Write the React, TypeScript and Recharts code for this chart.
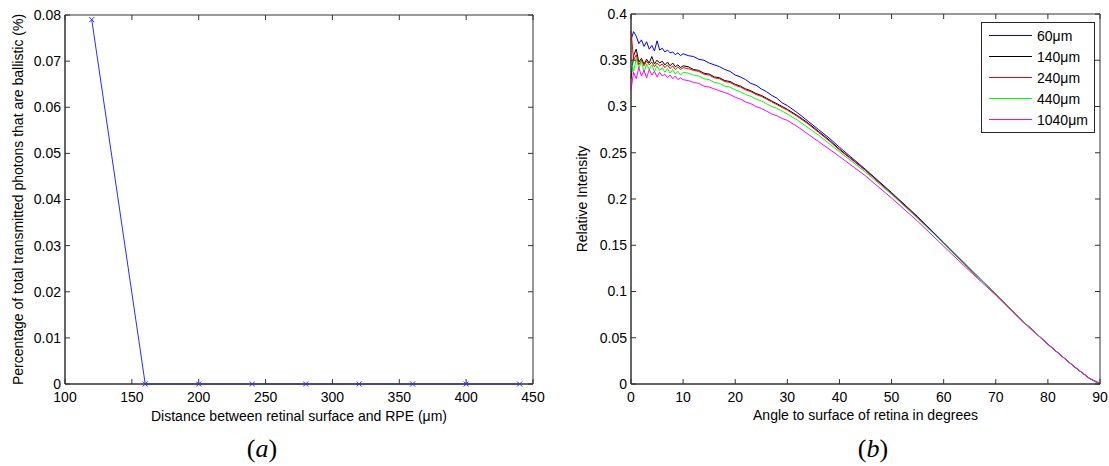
import React from 'react';
import { LineChart, Line, XAxis, YAxis, Legend, ReferenceArea } from 'recharts';

// ---------- Panel (a) ----------
const distances = [120, 160, 200, 240, 280, 320, 360, 400, 440];
const ballisticPct = [0.079, 0, 0, 0, 0, 0, 0, 0, 0];
const distanceTicks = [100, 150, 200, 250, 300, 350, 400, 450];
const pctTicks = [0, 0.01, 0.02, 0.03, 0.04, 0.05, 0.06, 0.07, 0.08];

// ---------- Panel (b) ----------
const angles = [
  0, 0.5, 1, 1.5, 2, 2.5, 3, 3.5, 4, 4.5, 5, 5.5, 6, 6.5, 7, 7.5, 8, 8.5, 9, 9.5, 10,
  11, 12, 13, 14, 15, 16, 17, 18, 19, 20, 21, 22, 23, 24, 25, 26, 27, 28, 29, 30,
  32, 34, 36, 38, 40,
  45, 50, 55, 60, 65, 70, 75, 80, 85, 88, 90,
];
const intensity60 = [
  0.372, 0.381, 0.376, 0.368, 0.372, 0.365, 0.370, 0.362, 0.366, 0.360, 0.371, 0.361, 0.363, 0.359, 0.361, 0.358, 0.359, 0.356, 0.358, 0.355, 0.357,
  0.355, 0.354, 0.351, 0.350, 0.347, 0.345, 0.343, 0.340, 0.338, 0.334, 0.332, 0.329, 0.325, 0.323, 0.319, 0.316, 0.312, 0.309, 0.304, 0.301,
  0.293, 0.284, 0.275, 0.266, 0.256,
  0.232, 0.207, 0.181, 0.153, 0.125, 0.097, 0.069, 0.043, 0.019, 0.006, 0,
];
const intensity140 = [
  0.330, 0.355, 0.362, 0.348, 0.352, 0.346, 0.351, 0.347, 0.354, 0.346, 0.350, 0.347, 0.349, 0.345, 0.348, 0.344, 0.347, 0.343, 0.345, 0.342, 0.344,
  0.343, 0.340, 0.339, 0.336, 0.335, 0.332, 0.331, 0.328, 0.327, 0.324, 0.322, 0.319, 0.317, 0.314, 0.312, 0.309, 0.306, 0.303, 0.300, 0.297,
  0.290, 0.282, 0.273, 0.264, 0.254,
  0.231, 0.206, 0.180, 0.152, 0.124, 0.097, 0.069, 0.043, 0.019, 0.006, 0,
];
const intensity240 = [
  0.382, 0.350, 0.356, 0.345, 0.350, 0.344, 0.349, 0.345, 0.348, 0.343, 0.347, 0.344, 0.346, 0.342, 0.345, 0.341, 0.344, 0.340, 0.343, 0.340, 0.342,
  0.341, 0.339, 0.338, 0.335, 0.334, 0.331, 0.330, 0.327, 0.326, 0.323, 0.321, 0.318, 0.316, 0.313, 0.311, 0.308, 0.305, 0.302, 0.299, 0.296,
  0.289, 0.281, 0.272, 0.263, 0.253,
  0.231, 0.206, 0.180, 0.152, 0.124, 0.097, 0.069, 0.043, 0.019, 0.006, 0,
];
const intensity440 = [
  0.350, 0.338, 0.352, 0.341, 0.349, 0.337, 0.346, 0.340, 0.345, 0.338, 0.344, 0.339, 0.342, 0.337, 0.341, 0.336, 0.340, 0.335, 0.338, 0.334, 0.337,
  0.336, 0.334, 0.333, 0.330, 0.329, 0.326, 0.325, 0.322, 0.321, 0.318, 0.316, 0.313, 0.311, 0.308, 0.306, 0.303, 0.300, 0.298, 0.295, 0.292,
  0.285, 0.277, 0.269, 0.260, 0.251,
  0.229, 0.205, 0.179, 0.152, 0.124, 0.097, 0.069, 0.043, 0.019, 0.006, 0,
];
const intensity1040 = [
  0.318, 0.337, 0.330, 0.342, 0.333, 0.339, 0.331, 0.340, 0.334, 0.338, 0.332, 0.337, 0.333, 0.335, 0.331, 0.334, 0.330, 0.333, 0.329, 0.331, 0.329,
  0.328, 0.326, 0.325, 0.322, 0.321, 0.319, 0.317, 0.315, 0.313, 0.310, 0.308, 0.305, 0.303, 0.300, 0.298, 0.295, 0.292, 0.290, 0.287, 0.285,
  0.278, 0.270, 0.262, 0.254, 0.246,
  0.225, 0.201, 0.176, 0.149, 0.122, 0.096, 0.068, 0.043, 0.019, 0.006, 0.001,
];
const seriesNames = ['60μm', '140μm', '240μm', '440μm', '1040μm'];
const seriesColors = ['#0000ff', '#000000', '#ff0000', '#00ff00', '#ff00ff'];
const seriesValues = [intensity60, intensity140, intensity240, intensity440, intensity1040];
const angleTicks = [0, 10, 20, 30, 40, 50, 60, 70, 80, 90];
const intensityTicks = [0, 0.05, 0.1, 0.15, 0.2, 0.25, 0.3, 0.35, 0.4];

const leftRows = distances.map((d, i) => ({ d, v: ballisticPct[i] }));
const rightRows = angles.map((a, i) => {
  const row: any = { a };
  seriesValues.forEach((arr, k) => {
    row['s' + k] = arr[i];
  });
  return row;
});

const FONT = '"Liberation Sans", Arial, sans-serif';
const AXIS = '#333333';
const tickStyle = { fontSize: 14, fill: '#000', fontFamily: FONT };
const fmt = (v: number) => String(parseFloat(Number(v).toFixed(2)));
const blank = () => '';

const CrossDot = (props: any) => {
  const { cx, cy, index } = props;
  if (cx == null || cy == null) return <g key={'e' + index} />;
  const s = 2.5;
  return (
    <path
      key={'x' + index}
      d={`M${cx - s},${cy - s}L${cx + s},${cy + s}M${cx - s},${cy + s}L${cx + s},${cy - s}`}
      stroke="#2b2bff"
      strokeWidth={1}
      fill="none"
    />
  );
};

const renderLegend = (props: any) => {
  const payload = [...(props.payload || [])]
    .filter((p: any) => seriesNames.indexOf(p.value) >= 0)
    .sort((p: any, q: any) => seriesNames.indexOf(p.value) - seriesNames.indexOf(q.value));
  return (
    <div
      style={{
        position: 'relative',
        width: 112,
        height: 109,
        border: '1px solid #262626',
        background: '#fff',
        fontFamily: FONT,
        fontSize: 14,
        color: '#000',
      }}
    >
      {payload.map((entry: any, i: number) => (
        <div
          key={entry.value}
          style={{
            position: 'absolute',
            left: 0,
            top: 2 + i * 21,
            height: 21,
            display: 'flex',
            alignItems: 'center',
            whiteSpace: 'nowrap',
          }}
        >
          <svg width={50} height={3} style={{ display: 'block' }}>
            <line x1={7} y1={1.5} x2={50} y2={1.5} stroke={seriesColors[seriesNames.indexOf(entry.value)]} strokeWidth={1} />
          </svg>
          <span style={{ marginLeft: 5 }}>{entry.value}</span>
        </div>
      ))}
    </div>
  );
};

const PanelTag = ({ letter, cx }: { letter: string; cx: number }) => (
  <div
    style={{
      position: 'absolute',
      left: cx - 40,
      top: 436,
      width: 80,
      textAlign: 'center',
      fontFamily: '"Liberation Serif", "DejaVu Serif", serif',
      fontSize: 26,
      lineHeight: '26px',
      color: '#000',
    }}
  >
    (<i>{letter}</i>)
  </div>
);

type FrameProps = { xKey: string; yKey: string; xDomain: number[]; xTicks: number[]; yDomain: number[]; yTicks: number[] };

// MATLAB-style box: top/right axes carrying inward ticks, and an outline of the plot area.
const frameAxes = ({ xKey, yKey, xDomain, xTicks, yDomain, yTicks }: FrameProps) => [
  <XAxis key="xtop" xAxisId="xtop" dataKey={xKey} type="number" domain={xDomain} allowDataOverflow ticks={xTicks} orientation="top" tickFormatter={blank} tickSize={-5} axisLine={false} tickLine={{ stroke: AXIS }} height={1} />,
  <YAxis key="yr" yAxisId="yr" type="number" domain={yDomain} allowDataOverflow ticks={yTicks} orientation="right" tickFormatter={blank} tickSize={-5} axisLine={false} tickLine={{ stroke: AXIS }} width={1} />,
  <Line key="h2" xAxisId="xtop" yAxisId="yr" dataKey={yKey} stroke="none" dot={false} activeDot={false} legendType="none" isAnimationActive={false} />,
  <ReferenceArea key="box" xAxisId="x" yAxisId="y" x1={xDomain[0]} x2={xDomain[1]} y1={yDomain[0]} y2={yDomain[1]} stroke={AXIS} strokeOpacity={1} fill="none" fillOpacity={0} />,
];

export default function App() {
  return (
    <div style={{ position: 'absolute', left: 0, top: 0, width: 1109, height: 466, background: '#fff', overflow: 'hidden' }}>
      <div style={{ position: 'absolute', left: 0, top: 0 }}>
        <LineChart width={560} height={466} data={leftRows} margin={{ top: 14, right: 26, bottom: 37, left: 0 }}>
          <XAxis
            xAxisId="x"
            dataKey="d"
            type="number"
            domain={[100, 450]}
            ticks={distanceTicks}
            tickLine={{ stroke: AXIS }}
            tickSize={-5}
            tickMargin={13}
            axisLine={{ stroke: AXIS }}
            tick={tickStyle}
            height={45}
            label={{
              value: 'Distance between retinal surface and RPE (μm)',
              position: 'insideTop',
              offset: 27,
              style: { fontSize: 14, fill: '#000', fontFamily: FONT },
            }}
          />
          <YAxis
            yAxisId="y"
            type="number"
            domain={[0, 0.08]}
            ticks={pctTicks}
            tickFormatter={fmt}
            tickLine={{ stroke: AXIS }}
            tickSize={-5}
            tickMargin={9}
            axisLine={{ stroke: AXIS }}
            tick={tickStyle}
            width={65}
            label={{
              value: 'Percentage of total transmitted photons that are ballistic (%)',
              angle: -90,
              position: 'insideLeft',
              offset: 18,
              style: { fontSize: 14, fill: '#000', fontFamily: FONT, textAnchor: 'middle' },
            }}
          />
          {frameAxes({ xKey: 'd', yKey: 'v', xDomain: [100, 450], xTicks: distanceTicks, yDomain: [0, 0.08], yTicks: pctTicks })}
          <Line
            xAxisId="x"
            yAxisId="y"
            dataKey="v"
            type="linear"
            stroke="#2b2bff"
            strokeWidth={1}
            dot={CrossDot}
            activeDot={false}
            isAnimationActive={false}
          />
        </LineChart>
      </div>
      <div style={{ position: 'absolute', left: 560, top: 0 }}>
        <LineChart width={549} height={466} data={rightRows} margin={{ top: 13, right: 8, bottom: 37, left: 0 }}>
          <XAxis
            xAxisId="x"
            dataKey="a"
            type="number"
            domain={[0, 90]}
            ticks={angleTicks}
            tickLine={{ stroke: AXIS }}
            tickSize={-5}
            tickMargin={13}
            axisLine={{ stroke: AXIS }}
            tick={tickStyle}
            height={45}
            label={{
              value: 'Angle to surface of retina in degrees',
              position: 'insideTop',
              offset: 26,
              style: { fontSize: 14, fill: '#000', fontFamily: FONT },
            }}
          />
          <YAxis
            yAxisId="y"
            type="number"
            domain={[0, 0.4]}
            ticks={intensityTicks}
            tickFormatter={fmt}
            tickLine={{ stroke: AXIS }}
            tickSize={-5}
            tickMargin={9}
            axisLine={{ stroke: AXIS }}
            tick={tickStyle}
            width={71}
            label={{
              value: 'Relative Intensity',
              angle: -90,
              position: 'insideLeft',
              offset: 22,
              style: { fontSize: 14, fill: '#000', fontFamily: FONT, textAnchor: 'middle' },
            }}
          />
          {frameAxes({ xKey: 'a', yKey: 's0', xDomain: [0, 90], xTicks: angleTicks, yDomain: [0, 0.4], yTicks: intensityTicks })}
          {seriesNames.map((name, k) => (
            <Line
              key={name}
              xAxisId="x"
              yAxisId="y"
              dataKey={'s' + k}
              name={name}
              type="linear"
              stroke={seriesColors[k]}
              strokeWidth={1}
              dot={false}
              activeDot={false}
              isAnimationActive={false}
            />
          ))}
          <Legend
            layout="horizontal"
            align="center"
            verticalAlign="middle"
            content={renderLegend}
            wrapperStyle={{ left: 421, top: 22, width: 114, height: 111 }}
          />
        </LineChart>
      </div>
      <PanelTag letter="a" cx={262} />
      <PanelTag letter="b" cx={873} />
    </div>
  );
}
